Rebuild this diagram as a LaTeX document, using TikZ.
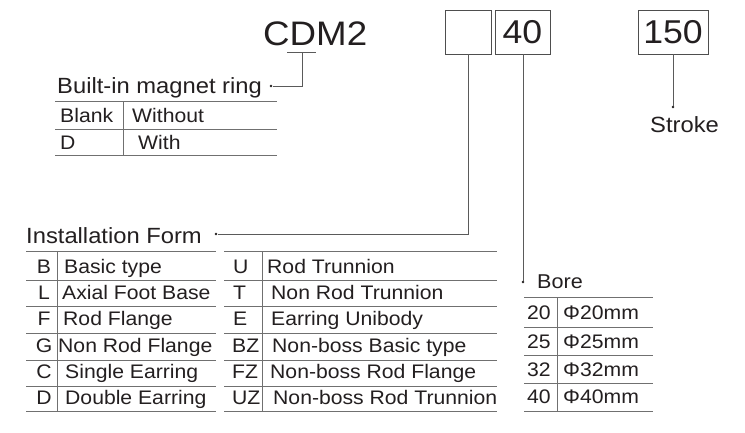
\documentclass[tikz,border=0pt]{standalone}
\usepackage{fontspec}
\setmainfont[FakeStretch=1.08]{Liberation Sans}
\definecolor{ink}{HTML}{231F20}
\definecolor{rule}{HTML}{707070}
\begin{document}
\begin{tikzpicture}[x=1pt,y=-1pt,
  txt/.style={inner sep=0pt,anchor=base west,text=ink},
  lbl/.style={txt,font=\fontsize{22}{24}\selectfont},
  cell/.style={txt,font=\fontsize{19.6}{21}\selectfont},
  code/.style={inner sep=0pt,anchor=base,text=ink,font=\fontsize{19.6}{21}\selectfont},
  tline/.style={draw=rule,line width=0.8pt},
  conn/.style={draw=rule!80!black,line width=0.8pt},
  codebox/.style={draw=rule!70!black,line width=0.9pt,inner sep=0pt},
  dotmark/.style={circle,fill=ink,inner sep=0pt,minimum size=2.6pt}]
\useasboundingbox (0,0) rectangle (745,432);
\fill[white] (0,0) rectangle (745,432);

% header
\node[txt,font=\fontsize{34}{36}\selectfont] (cdm) at (263,45) {CDM2};
\node[codebox,minimum width=46pt,minimum height=44pt] (b1) at (468,32) {};
\node[codebox,minimum width=55pt,minimum height=44pt,font=\fontsize{33}{35}\selectfont,text=ink] (b2) at (522.5,32) {40};
\node[codebox,minimum width=70pt,minimum height=44pt,font=\fontsize{33}{35}\selectfont,text=ink] (b3) at (673,32) {150};

% built-in magnet ring
\coordinate (ul) at (287,52);
\coordinate (ur) at (316,52);
\coordinate (um) at (302,52);
\coordinate (uc) at (302,86);
\node[dotmark] (d1) at (271,86) {};
\node[lbl] (mag) at (57,93) {Built-in magnet ring};
\draw[conn] (ul) -- (ur);
\draw[conn] (um) -- (uc) -- (d1);
\draw[tline] (55,101) -- (277,101) (55,129) -- (277,129) (55,155) -- (277,155);
\draw[tline] (123,101) -- (123,155);
\node[cell] (m1a) at (60,122) {Blank};
\node[cell] (m1b) at (132,122) {Without};
\node[cell] (m2a) at (60,149) {D};
\node[cell] (m2b) at (138,149) {With};

% stroke
\node[dotmark] (d3) at (673,107) {};
\draw[conn] (b3.south) -- (d3);
\node[lbl] (stroke) at (650,132) {Stroke};

% installation form
\node[dotmark] (d2) at (216,234) {};
\coordinate (ic) at (468,234);
\draw[conn] (b1.south) -- (ic) -- (d2);
\node[lbl] (inst) at (26,243) {Installation Form};
\foreach \y in {251,280,306,333,360,386,411}{
  \draw[tline] (26,\y) -- (216,\y);
  \draw[tline] (224,\y) -- (497,\y);
}
\draw[tline] (57,251) -- (57,411);
\draw[tline] (262,251) -- (262,411);
\node[code] (lc1) at (44,273) {B};
\node[code] (lc2) at (44,299) {L};
\node[code] (lc3) at (44,325) {F};
\node[code] (lc4) at (44,352) {G};
\node[code] (lc5) at (44,378) {C};
\node[code] (lc6) at (44,404) {D};
\node[cell] (ld1) at (64,273) {Basic type};
\node[cell] (ld2) at (62,299) {Axial Foot Base};
\node[cell] (ld3) at (63,325) {Rod Flange};
\node[cell] (ld4) at (58,352) {Non Rod Flange};
\node[cell] (ld5) at (65,378) {Single Earring};
\node[cell] (ld6) at (65,404) {Double Earring};
\node[cell] (rc1) at (233,273) {U};
\node[cell] (rc2) at (233,299) {T};
\node[cell] (rc3) at (233,325) {E};
\node[cell] (rc4) at (232,352) {BZ};
\node[cell] (rc5) at (232,378) {FZ};
\node[cell] (rc6) at (232,404) {UZ};
\node[cell] (rd1) at (267,273) {Rod Trunnion};
\node[cell] (rd2) at (271,299) {Non Rod Trunnion};
\node[cell] (rd3) at (271,325) {Earring Unibody};
\node[cell] (rd4) at (272,352) {Non-boss Basic type};
\node[cell] (rd5) at (270,378) {Non-boss Rod Flange};
\node[cell] (rd6) at (273,404) {Non-boss Rod Trunnion};

% bore
\node[dotmark] (d4) at (523,282) {};
\draw[conn] (b2.south -| d4) -- (d4);
\node[txt,font=\fontsize{20}{22}\selectfont] (bore) at (537,288) {Bore};
\foreach \y in {297,327,355,383,411}{
  \draw[tline] (524,\y) -- (653,\y);
}
\draw[tline] (557,297) -- (557,411);
\node[cell] (bc1) at (527,319) {20};
\node[cell] (bc2) at (527,348) {25};
\node[cell] (bc3) at (527,376) {32};
\node[cell] (bc4) at (527,403) {40};
\node[cell] (bv1) at (563,319) {Φ20mm};
\node[cell] (bv2) at (563,348) {Φ25mm};
\node[cell] (bv3) at (563,376) {Φ32mm};
\node[cell] (bv4) at (563,403) {Φ40mm};
\end{tikzpicture}
\end{document}
